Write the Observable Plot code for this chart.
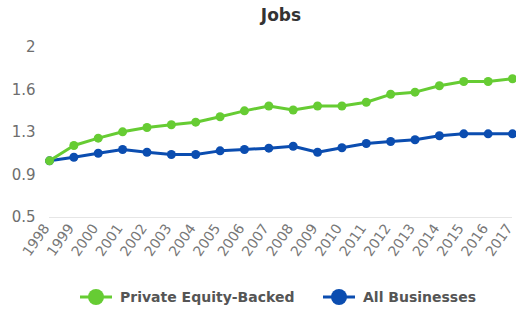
<!DOCTYPE html>
<html>
<head>
<meta charset="utf-8">
<script src="https://cdn.jsdelivr.net/npm/d3@7"></script>
<script src="https://cdn.jsdelivr.net/npm/@observablehq/plot@0.6"></script>
<style>
  html, body { margin: 0; padding: 0; background: #fff; }
  #wrap { position: relative; width: 516px; height: 312px; overflow: hidden; font-family: "DejaVu Sans", Verdana, sans-serif; }
  #title { position: absolute; left: 46px; top: 0; width: 470px; height: 30px; line-height: 30px; text-align: center; font-weight: bold; font-size: 17px; color: #333; }
  #chart { position: absolute; left: 0; top: 30px; }
  #legend { position: absolute; left: 0; top: 284px; width: 516px; height: 26px; }
  .item { position: absolute; top: 0; height: 26px; display: flex; align-items: center; font-weight: bold; font-size: 14px; color: #555; white-space: nowrap; }
  .item svg { margin-right: 8px; }
</style>
</head>
<body>
<div id="wrap">
  <div id="title"></div>
  <div id="chart"></div>
  <div id="legend"></div>
</div>
<script>
const titleText = "Jobs";
const years = [1998,1999,2000,2001,2002,2003,2004,2005,2006,2007,2008,2009,2010,2011,2012,2013,2014,2015,2016,2017];
const privateEquity = [1.0,1.135,1.20,1.256,1.294,1.318,1.341,1.389,1.441,1.484,1.449,1.484,1.484,1.517,1.587,1.606,1.662,1.70,1.70,1.724];
const allBusinesses = [1.0,1.032,1.067,1.10,1.076,1.056,1.056,1.088,1.10,1.112,1.129,1.076,1.115,1.153,1.171,1.186,1.221,1.238,1.238,1.238];
const seriesNames = ["Private Equity-Backed", "All Businesses"];
const seriesColors = ["#66cc33", "#0b4db0"];
const yTicks = [0.5, 0.875, 1.25, 1.625, 2];
const yTickLabels = ["0.5", "0.9", "1.3", "1.6", "2"];

document.getElementById("title").textContent = titleText;

const rows = [];
years.forEach((y, i) => {
  rows.push({year: y, value: privateEquity[i], series: seriesNames[0]});
  rows.push({year: y, value: allBusinesses[i], series: seriesNames[1]});
});
const pe = rows.filter(d => d.series === seriesNames[0]);
const ab = rows.filter(d => d.series === seriesNames[1]);

const chart = Plot.plot({
  width: 516,
  height: 245,
  marginLeft: 49,
  marginRight: 4,
  marginTop: 17,
  marginBottom: 58,
  style: {fontFamily: "'DejaVu Sans', Verdana, sans-serif", overflow: "visible", background: "transparent"},
  x: {type: "linear", domain: [years[0], years[years.length - 1]]},
  y: {domain: [0.5, 2]},
  marks: [
    Plot.ruleY([0.5], {stroke: "#e6e6e6", strokeWidth: 1, x1: years[0], x2: years[years.length - 1]}),
    Plot.axisY({ticks: yTicks, tickFormat: d => yTickLabels[yTicks.indexOf(d)], tickSize: 0, tickPadding: 14, fontSize: 15, fill: "#6e6e6e", label: null}),
    Plot.axisX({ticks: years, tickFormat: d => String(d), tickRotate: -55, tickSize: 0, tickPadding: 8, dx: -3, fontSize: 14, fill: "#777", label: null}),
    Plot.line(ab, {x: "year", y: "value", stroke: seriesColors[1], strokeWidth: 3}),
    Plot.dot(ab, {x: "year", y: "value", fill: seriesColors[1], r: 4.5}),
    Plot.line(pe, {x: "year", y: "value", stroke: seriesColors[0], strokeWidth: 3}),
    Plot.dot(pe, {x: "year", y: "value", fill: seriesColors[0], r: 4.5})
  ]
});
document.getElementById("chart").appendChild(chart);

const legend = document.getElementById("legend");
const legendX = [80, 323];
seriesNames.forEach((name, i) => {
  const item = document.createElement("div");
  item.className = "item";
  item.style.left = legendX[i] + "px";
  const ns = "http://www.w3.org/2000/svg";
  const sw = document.createElementNS(ns, "svg");
  sw.setAttribute("width", 32); sw.setAttribute("height", 20);
  const ln = document.createElementNS(ns, "line");
  ln.setAttribute("x1", 0); ln.setAttribute("x2", 32); ln.setAttribute("y1", 10); ln.setAttribute("y2", 10);
  ln.setAttribute("stroke", seriesColors[i]); ln.setAttribute("stroke-width", 3);
  const c = document.createElementNS(ns, "circle");
  c.setAttribute("cx", 16); c.setAttribute("cy", 10); c.setAttribute("r", 8);
  c.setAttribute("fill", seriesColors[i]);
  sw.appendChild(ln); sw.appendChild(c);
  item.appendChild(sw);
  const t = document.createElement("span");
  t.textContent = name;
  item.appendChild(t);
  legend.appendChild(item);
});
</script>
</body>
</html>
